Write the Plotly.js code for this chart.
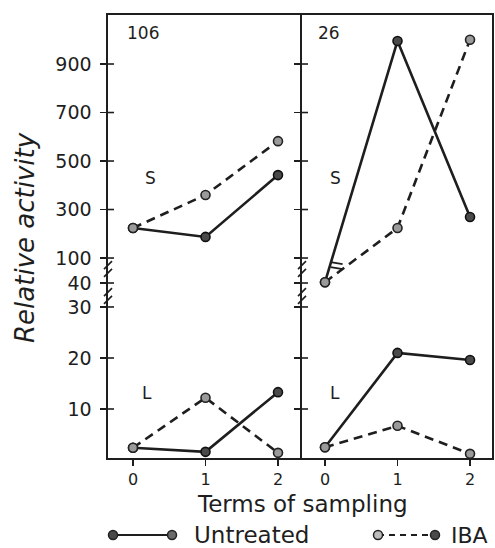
<!DOCTYPE html>
<html>
<head>
<meta charset="utf-8">
<script src="https://cdn.plot.ly/plotly-3.0.1.min.js"></script>
<style>html,body{margin:0;padding:0;background:#fff;}#chart{width:495px;height:548px;}</style>
</head>
<body>
<div id="chart"></div>
<script>
// ---- data ----
const terms = [0, 1, 2];
const s106Untreated = [224, 187, 442];
const s106IBA = [224, 360, 582];
const l106Untreated = [2.4, 1.6, 13.3];
const l106IBA = [2.4, 12.2, 1.4];
const s26Untreated = [42, 995, 269];
const s26IBA = [42, 224, 1000];
const l26Untreated = [2.5, 21.0, 19.6];
const l26IBA = [2.5, 6.7, 1.2];
const yTickVals = [10, 20, 30, 40, 100, 300, 500, 700, 900];
const yTickText = ['10', '20', '30', '40', '100', '300', '500', '700', '900'];
const xTickVals = [0, 1, 2];
const panelLabels = ['106', '26'];

// broken-axis transform: real value -> display coordinate
function brk(v) {
  if (v <= 30) return v;
  if (v <= 40) return 30 + (v - 30) * 0.47;
  if (v <= 100) return 34.7 + (v - 40) * 0.08167;
  return 39.6 + (v - 100) * 0.04755;
}
const T = arr => arr.map(brk);

const INK = '#1e1e1e';
const untreatedLine = {color: INK, width: 2.6};
const ibaLine = {color: INK, width: 2.6, dash: '9px,6px'};
const untreatedMarker = {size: 9, color: '#4a4a4a', line: {color: '#111', width: 1.6}};
const ibaMarker = {size: 9, color: '#9a9a9a', line: {color: '#222', width: 1.6}};

function tr(y, xa, ya, line, marker) {
  return {x: terms, y: T(y), xaxis: xa, yaxis: ya, mode: 'lines+markers',
          line: line, marker: marker, showlegend: false, hoverinfo: 'skip', cliponaxis: false};
}

const data = [
  tr(s106Untreated, 'x', 'y', untreatedLine, untreatedMarker),
  tr(s106IBA, 'x', 'y', ibaLine, ibaMarker),
  tr(l106Untreated, 'x', 'y', untreatedLine, untreatedMarker),
  tr(l106IBA, 'x', 'y', ibaLine, ibaMarker),
  tr(s26Untreated, 'x2', 'y2', untreatedLine, untreatedMarker),
  tr(s26IBA, 'x2', 'y2', ibaLine, ibaMarker),
  tr(l26Untreated, 'x2', 'y2', untreatedLine, untreatedMarker),
  tr(l26IBA, 'x2', 'y2', ibaLine, ibaMarker)
];

const W = 495, H = 548, L = 108, R = 3, TOP = 15, B = 90;
const PW = W - L - R, PH = H - TOP - B;
const px = p => (p - L) / PW;          // pixel x -> paper
const py = p => (H - B - p) / PH;      // pixel y -> paper
const split = px(302);
const yRange = [0.39, 87.25];
const FONT = 'DejaVu Sans';

const shapes = [];
const line = {color: INK, width: 1.6};
// crossing ticks: inside part on the left axis and the divider
yTickVals.forEach(v => {
  [0, split].forEach(ax => {
    shapes.push({type: 'line', xref: 'paper', yref: 'y', xsizemode: 'pixel', xanchor: ax,
                 x0: 0, x1: 6, y0: brk(v), y1: brk(v), line: line});
  });
});
// break slashes on both vertical axes
[38.2, 36.7, 32.9, 31.4].forEach(d => {
  [0, split].forEach(ax => {
    shapes.push({type: 'line', xref: 'paper', yref: 'y', xsizemode: 'pixel', ysizemode: 'pixel',
                 xanchor: ax, yanchor: d, x0: -4, x1: 4, y0: -4, y1: 4, line: {color: INK, width: 1.6}});
  });
});
// break marks on the untreated S line (panel 26)
[0, -5].forEach(off => {
  shapes.push({type: 'line', xref: 'x2', yref: 'y2', xsizemode: 'pixel', ysizemode: 'pixel',
               xanchor: 0.16, yanchor: 38.6, x0: -6, x1: 6, y0: off + 1, y1: off - 1, line: {color: INK, width: 2}});
});
// legend glyphs
function legendGlyph(xl, xr, dash, mLeft, mRight) {
  shapes.push({type: 'line', xref: 'paper', yref: 'paper', x0: px(xl), x1: px(xr), y0: py(535), y1: py(535),
               line: {color: INK, width: 2, dash: dash}});
  [[xl, mLeft], [xr, mRight]].forEach(([x, m]) => {
    shapes.push({type: 'circle', xref: 'paper', yref: 'paper', xsizemode: 'pixel', ysizemode: 'pixel',
                 xanchor: px(x), yanchor: py(535), x0: -4.5, x1: 4.5, y0: -4.5, y1: 4.5,
                 fillcolor: m, line: {color: '#222', width: 1.5}});
  });
}
legendGlyph(113, 172, 'solid', '#4a4a4a', '#6a6a6a');
legendGlyph(378, 435, '6px,5px', '#bdbdbd', '#4a4a4a');

const ann = (text, x, y, size, opts) => Object.assign({text: text, xref: 'paper', yref: 'paper', x: x, y: y,
  xanchor: 'center', yanchor: 'middle', showarrow: false, font: {family: FONT, size: size, color: INK}}, opts || {});

const annotations = [
  ann(panelLabels[0], px(125), py(33), 17, {xanchor: 'left'}),
  ann(panelLabels[1], px(316), py(33), 17, {xanchor: 'left'}),
  ann('S', px(150), py(178), 17),
  ann('S', px(335), py(178), 17),
  ann('L', px(147), py(393), 17),
  ann('L', px(335), py(393), 17),
  ann('<i>Relative activity</i>', px(25), py(238), 26, {textangle: -90}),
  ann('Terms of sampling', px(302), py(504), 23),
  ann('Untreated', px(192), py(535), 23, {xanchor: 'left'}),
  ann('IBA', px(449), py(535), 22, {xanchor: 'left'})
];

const xCommon = {tickvals: xTickVals, ticks: 'outside', ticklen: 6, tickwidth: 1.6, tickcolor: INK,
  showline: true, linecolor: INK, linewidth: 1.6, mirror: true, showgrid: false, zeroline: false,
  tickfont: {family: FONT, size: 16, color: INK}, fixedrange: true};
const yCommon = {range: yRange, tickvals: T(yTickVals), ticktext: yTickText, ticks: 'outside', ticklen: 6,
  tickwidth: 1.6, tickcolor: INK, showline: true, linecolor: INK, linewidth: 1.6, showgrid: false,
  zeroline: false, tickfont: {family: FONT, size: 19, color: INK}, fixedrange: true};

const layout = {
  width: W, height: H,
  margin: {l: L, r: R, t: TOP, b: B},
  paper_bgcolor: '#fff', plot_bgcolor: '#fff',
  showlegend: false,
  xaxis: Object.assign({}, xCommon, {domain: [0, split], range: [-0.345, 2.331], anchor: 'y'}),
  xaxis2: Object.assign({}, xCommon, {domain: [split, 1], range: [-0.317, 2.303], anchor: 'y2'}),
  yaxis: Object.assign({}, yCommon, {anchor: 'x', mirror: false, ticklabelstandoff: 5}),
  yaxis2: Object.assign({}, yCommon, {anchor: 'x2', mirror: true, showticklabels: false}),
  shapes: shapes,
  annotations: annotations
};

Plotly.newPlot('chart', data, layout, {displayModeBar: false, staticPlot: true});
</script>
</body>
</html>
